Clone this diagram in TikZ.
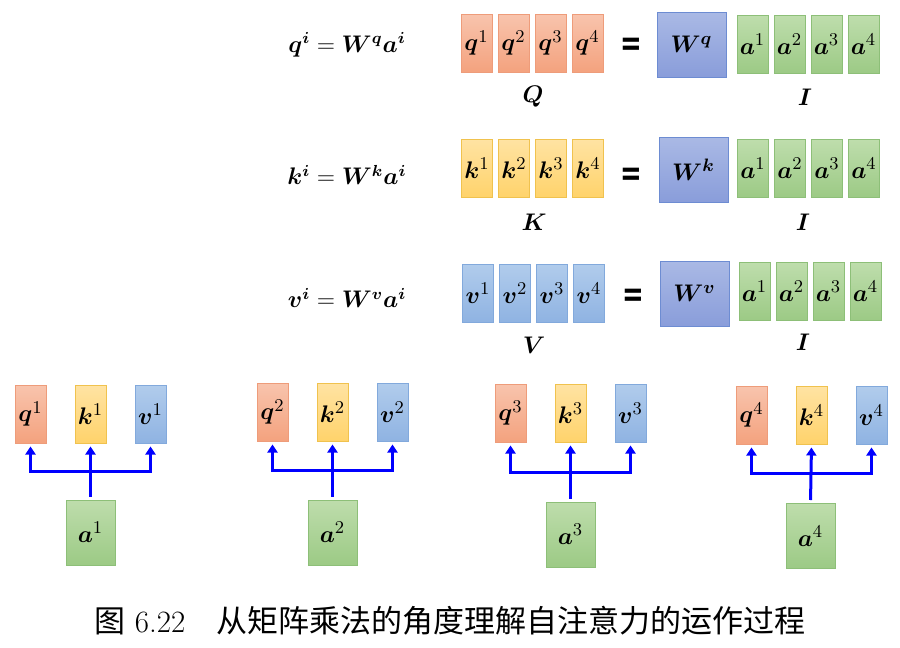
\documentclass[tikz,border=0pt]{standalone}
\usepackage{fontspec}
\usepackage{amsmath}
\usepackage{bm}
\usepackage{tikz}
\usetikzlibrary{arrows.meta,positioning,calc}
\newfontfamily\cjk{Noto Sans CJK SC}
\newfontfamily\eqfont{DejaVu Sans}
\definecolor{RedTop}{HTML}{F8C4AD}
\definecolor{RedBot}{HTML}{F4A27E}
\definecolor{RedLine}{HTML}{EE9C7A}
\definecolor{GoldTop}{HTML}{FFE3A3}
\definecolor{GoldBot}{HTML}{FFD36B}
\definecolor{GoldLine}{HTML}{F0C24E}
\definecolor{BlueTop}{HTML}{B1CCEC}
\definecolor{BlueBot}{HTML}{8FB3E2}
\definecolor{BlueLine}{HTML}{82A9DC}
\definecolor{PurpTop}{HTML}{AAB9E5}
\definecolor{PurpBot}{HTML}{899DDA}
\definecolor{PurpLine}{HTML}{6D8CD2}
\definecolor{GreenTop}{HTML}{BEDDAC}
\definecolor{GreenBot}{HTML}{9CCA85}
\definecolor{GreenLine}{HTML}{8DBF78}
\tikzset{
  FB/.style={rectangle,draw,line width=0.5pt,
             minimum width=15.5pt,minimum height=29pt,
             inner sep=0pt,font=\fontsize{13}{15}\selectfont},
  WB/.style={FB,minimum width=34.5pt,minimum height=32.5pt},
  AB/.style={FB,minimum width=24.5pt,minimum height=32.5pt},
  nR/.style={FB,top color=RedTop,bottom color=RedBot,draw=RedLine},
  nY/.style={FB,top color=GoldTop,bottom color=GoldBot,draw=GoldLine},
  nB/.style={FB,top color=BlueTop,bottom color=BlueBot,draw=BlueLine},
  nG/.style={FB,top color=GreenTop,bottom color=GreenBot,draw=GreenLine},
  nW/.style={WB,top color=PurpTop,bottom color=PurpBot,draw=PurpLine},
  nA/.style={AB,top color=GreenTop,bottom color=GreenBot,draw=GreenLine},
  EQ/.style={font=\eqfont\bfseries\fontsize{18}{18}\selectfont,inner sep=0pt,
             xscale=0.72,transform shape},
  eqn/.style={font=\large},
  lbl/.style={font=\large},
  capt/.style={font=\fontsize{15.5}{18}\selectfont},
  arr/.style={-{Triangle[length=4pt,width=5pt]},line width=1.5pt,draw=blue,
              shorten >=1.5pt}
}
\begin{document}
\begin{tikzpicture}[x=0.5pt,y=-0.5pt]
  \useasboundingbox (0,0) rectangle (900,648);
  % Q = W^q I
  \node[eqn] (eqQ) at (347,45) {$\bm{q^i}=\bm{W^q a^i}$};
  \node[nR] (Q1) at (476.5,43) {$\bm{q}^1$};
  \node[nR,right=2.5pt of Q1] (Q2) {$\bm{q}^2$};
  \node[nR,right=2.5pt of Q2] (Q3) {$\bm{q}^3$};
  \node[nR,right=2.5pt of Q3] (Q4) {$\bm{q}^4$};
  \node[EQ] (isQ) at (631,47) {=};
  \node[nW] (WQ) at (691.5,44.5) {$\bm{W^q}$};
  \node[nG] (IQ1) at (752.5,44.5) {$\bm{a}^1$};
  \node[nG,right=2.5pt of IQ1] (IQ2) {$\bm{a}^2$};
  \node[nG,right=2.5pt of IQ2] (IQ3) {$\bm{a}^3$};
  \node[nG,right=2.5pt of IQ3] (IQ4) {$\bm{a}^4$};
  \node[lbl] (labQ) at (533,97) {$\bm{Q}$};
  \node[lbl] (labIQ) at (805,97) {$\bm{I}$};

  % K = W^k I
  \node[eqn] (eqK) at (347,175) {$\bm{k^i}=\bm{W^k a^i}$};
  \node[nY] (K1) at (477,168) {$\bm{k}^1$};
  \node[nY,right=2.5pt of K1] (K2) {$\bm{k}^2$};
  \node[nY,right=2.5pt of K2] (K3) {$\bm{k}^3$};
  \node[nY,right=2.5pt of K3] (K4) {$\bm{k}^4$};
  \node[EQ] (isK) at (631,177) {=};
  \node[nW] (WK) at (693.5,169.5) {$\bm{W^k}$};
  \node[nG] (IK1) at (753,168.5) {$\bm{a}^1$};
  \node[nG,right=2.5pt of IK1] (IK2) {$\bm{a}^2$};
  \node[nG,right=2.5pt of IK2] (IK3) {$\bm{a}^3$};
  \node[nG,right=2.5pt of IK3] (IK4) {$\bm{a}^4$};
  \node[lbl] (labK) at (534,222) {$\bm{K}$};
  \node[lbl] (labIK) at (803,222) {$\bm{I}$};

  % V = W^v I
  \node[eqn] (eqV) at (347,298) {$\bm{v^i}=\bm{W^v a^i}$};
  \node[nB] (V1) at (478,293) {$\bm{v}^1$};
  \node[nB,right=2.5pt of V1] (V2) {$\bm{v}^2$};
  \node[nB,right=2.5pt of V2] (V3) {$\bm{v}^3$};
  \node[nB,right=2.5pt of V3] (V4) {$\bm{v}^4$};
  \node[EQ] (isV) at (633,298) {=};
  \node[nW] (WV) at (694.5,293.5) {$\bm{W^v}$};
  \node[nG] (IV1) at (754.5,291.5) {$\bm{a}^1$};
  \node[nG,right=2.5pt of IV1] (IV2) {$\bm{a}^2$};
  \node[nG,right=2.5pt of IV2] (IV3) {$\bm{a}^3$};
  \node[nG,right=2.5pt of IV3] (IV4) {$\bm{a}^4$};
  \node[lbl] (labV) at (534,345) {$\bm{V}$};
  \node[lbl] (labIV) at (803,342) {$\bm{I}$};

  % one input a^i -> q^i, k^i, v^i
  \node[nR] (q1) at (30.5,414) {$\bm{q}^1$};
  \node[nY,right=14pt of q1] (k1) {$\bm{k}^1$};
  \node[nB,right=14pt of k1] (v1) {$\bm{v}^1$};
  \node[nA] (a1) at (90.5,532.5) {$\bm{a}^1$};

  \node[nR] (q2) at (272.5,412) {$\bm{q}^2$};
  \node[nY,right=14pt of q2] (k2) {$\bm{k}^2$};
  \node[nB,right=14pt of k2] (v2) {$\bm{v}^2$};
  \node[nA] (a2) at (332.5,532.5) {$\bm{a}^2$};

  \node[nR] (q3) at (510.5,413) {$\bm{q}^3$};
  \node[nY,right=14pt of q3] (k3) {$\bm{k}^3$};
  \node[nB,right=14pt of k3] (v3) {$\bm{v}^3$};
  \node[nA] (a3) at (570.5,534.5) {$\bm{a}^3$};

  \node[nR] (q4) at (751.5,415) {$\bm{q}^4$};
  \node[nY,right=14pt of q4] (k4) {$\bm{k}^4$};
  \node[nB,right=14pt of k4] (v4) {$\bm{v}^4$};
  \node[nA] (a4) at (810.5,536) {$\bm{a}^4$};

  \coordinate (j1) at ($(a1.north)!0.5!(k1.south)$);
  \coordinate (j2) at ($(a2.north)!0.5!(k2.south)$);
  \coordinate (j3) at ($(a3.north)!0.5!(k3.south)$);
  \coordinate (j4) at ($(a4.north)!0.5!(k4.south)$);

  \draw[arr,shorten <=1.5pt](a1.north)--(k1.south);
  \draw[arr](j1)-|(q1.south);
  \draw[arr](j1)-|(v1.south);
  \draw[arr,shorten <=1.5pt](a2.north)--(k2.south);
  \draw[arr](j2)-|(q2.south);
  \draw[arr](j2)-|(v2.south);
  \draw[arr,shorten <=1.5pt](a3.north)--(k3.south);
  \draw[arr](j3)-|(q3.south);
  \draw[arr](j3)-|(v3.south);
  \draw[arr,shorten <=1.5pt](a4.north)--(k4.south);
  \draw[arr](j4)-|(q4.south);
  \draw[arr](j4)-|(v4.south);

  \node[capt] (caption) at (450,621) {{\cjk 图} 6.22\quad{\cjk 从矩阵乘法的角度理解自注意力的运作过程}};
\end{tikzpicture}
\end{document}
